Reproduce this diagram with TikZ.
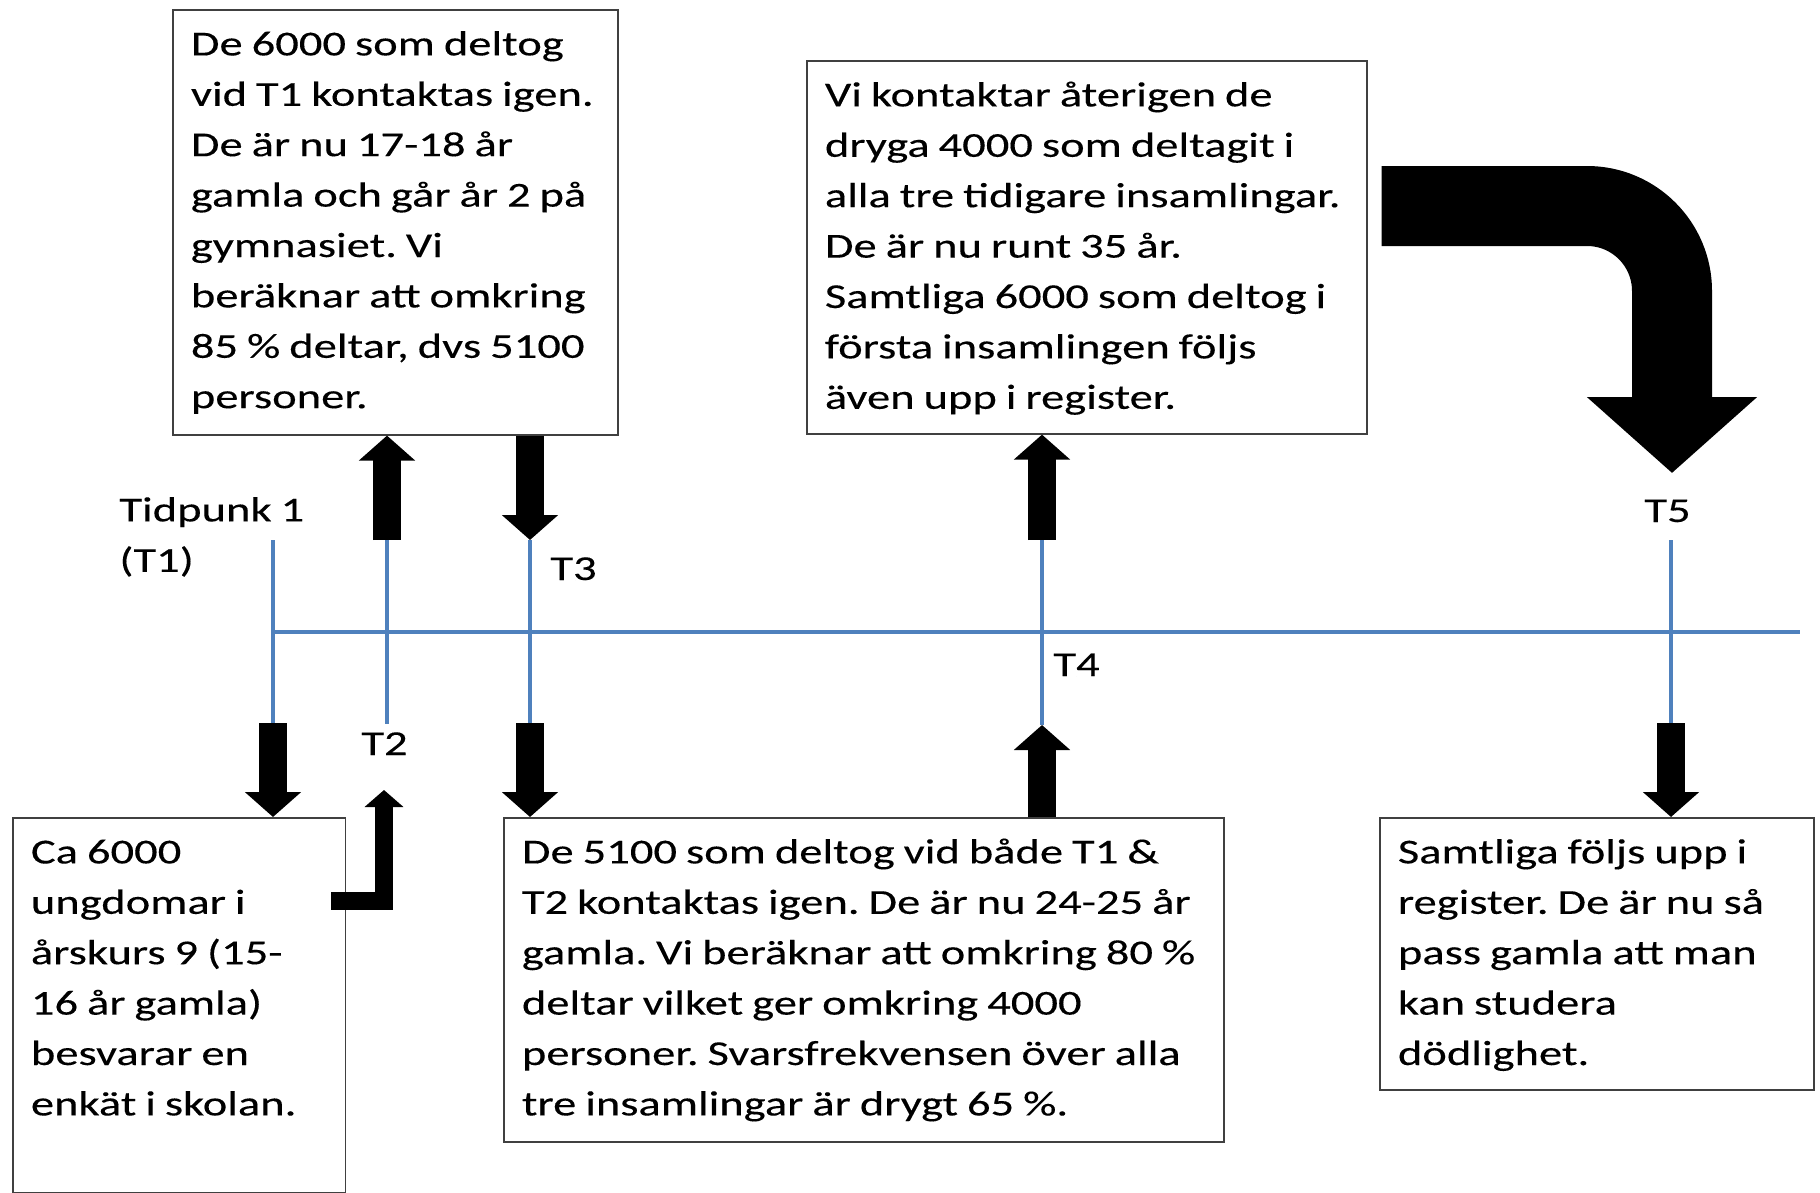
\documentclass[tikz,border=0pt]{standalone}
\usepackage{fontspec}
\setmainfont{Carlito}[FakeStretch=1.33, WordSpace=0.85, FakeBold=0.25]
\usepackage{tikz}
\usetikzlibrary{arrows.meta, positioning}
\definecolor{axisblue}{HTML}{4F81BD}
\newcommand{\boxfont}{\fontsize{17.5pt}{25.2pt}\selectfont}
\newcommand{\topstrut}{\rule{0pt}{14pt}}
\frenchspacing

\begin{document}
\begin{tikzpicture}[x=0.5pt, y=-0.5pt,
        infobox/.style={draw=black!75, line width=0.8pt, inner sep=0pt, anchor=north west},
        infotext/.style={font=\boxfont, align=left, inner sep=0pt, anchor=north west},
        tlabel/.style={font=\boxfont, inner sep=0pt, anchor=base west},
        timeline/.style={draw=axisblue, line width=2pt},
        blockarrow/.style={line width=14pt, -{Triangle[width=27.5pt, length=12.5pt]}},
        elbowarrow/.style={line width=9pt, line join=miter, -{Triangle[width=19pt, length=8.5pt]}},
        bigarrow/.style={line width=40pt, rounded corners=42.5pt, -{Triangle[width=83pt, length=38pt]}}
    ]
    \useasboundingbox (0,0) rectangle (1820,1193);

    % tidslinje
    \coordinate (axisL) at (273,632);
    \coordinate (axisR) at (1800,632);
    \coordinate (t1top) at (273,540);
    \coordinate (t1bot) at (273,723);
    \coordinate (t2top) at (387,540);
    \coordinate (t2bot) at (387,724);
    \coordinate (t3top) at (530,540);
    \coordinate (t3bot) at (530,723);
    \coordinate (t4top) at (1042,540);
    \coordinate (t4bot) at (1042,725);
    \coordinate (t5top) at (1671,540);
    \coordinate (t5bot) at (1671,723);
    \draw[timeline] (axisL) -- (axisR);
    \draw[timeline] (t1top) -- (t1bot);
    \draw[timeline] (t2top) -- (t2bot);
    \draw[timeline] (t3top) -- (t3bot);
    \draw[timeline] (t4top) -- (t4bot);
    \draw[timeline] (t5top) -- (t5bot);

    % etiketter
    \node[infotext] (tid1) at (119,493) {\topstrut Tidpunk 1\\(T1)};
    \node[tlabel] (lab2) at (361,755) {T2};
    \node[tlabel] (lab3) at (550,580) {T3};
    \node[tlabel] (lab4) at (1053,676) {T4};
    \node[tlabel] (lab5) at (1644,522) {T5};

    % rutor
    \node[infobox, minimum width=222.5pt, minimum height=212.5pt] (boxA) at (172,9) {};
    \node[infobox, minimum width=280pt, minimum height=186.5pt] (boxB) at (806,60) {};
    \node[infobox, minimum width=166.4pt, minimum height=187.5pt] (boxC) at (12,817) {};
    \node[infobox, minimum width=360.2pt, minimum height=162pt] (boxD) at (503,817) {};
    \node[infobox, minimum width=217pt, minimum height=136pt] (boxE) at (1379,817) {};

    \node[infotext] (txtA) at ([xshift=9.25pt, yshift=-9pt]boxA.north west)
        {\topstrut De 6000 som deltog\\vid T1 kontaktas igen.\\De är nu 17-18 år\\gamla och går år 2 på\\gymnasiet. Vi\\beräknar att omkring\\85 \% deltar, dvs 5100\\personer.};
    \node[infotext] (txtB) at ([xshift=9.25pt, yshift=-9pt]boxB.north west)
        {\topstrut Vi kontaktar återigen de\\dryga 4000 som deltagit i\\alla tre tidigare insamlingar.\\De är nu runt 35 år.\\Samtliga 6000 som deltog i\\första insamlingen följs\\även upp i register.};
    \node[infotext] (txtC) at ([xshift=9.25pt, yshift=-9pt]boxC.north west)
        {\topstrut Ca 6000\\ungdomar i\\årskurs 9 (15-\\16 år gamla)\\besvarar en\\enkät i skolan.};
    \node[infotext] (txtD) at ([xshift=9.25pt, yshift=-9pt]boxD.north west)
        {\topstrut De 5100 som deltog vid både T1 \&\\T2 kontaktas igen. De är nu 24-25 år\\gamla. Vi beräknar att omkring 80 \%\\deltar vilket ger omkring 4000\\personer. Svarsfrekvensen över alla\\tre insamlingar är drygt 65 \%.};
    \node[infotext] (txtE) at ([xshift=9.25pt, yshift=-9pt]boxE.north west)
        {\topstrut Samtliga följs upp i\\register. De är nu så\\pass gamla att man\\kan studera\\dödlighet.};

    % pilar
    \draw[blockarrow] (t1bot) -- (t1bot |- boxC.north);
    \draw[blockarrow] (t2top) -- (t2top |- boxA.south);
    \draw[blockarrow] (t3top |- boxA.south) -- (t3top);
    \draw[blockarrow] (t3bot) -- (t3bot |- boxD.north);
    \draw[blockarrow] (t4top) -- (t4top |- boxB.south);
    \draw[blockarrow] (t4bot |- boxD.north) -- (t4bot);
    \draw[blockarrow] (t5bot) -- (t5bot |- boxE.north);

    \coordinate (t2elbow) at (384,901);
    \coordinate (t2tip) at (384,790);
    \draw[elbowarrow] ([xshift=-7.6pt]boxC.east |- t2elbow) -- (t2elbow) -- (t2tip);

    \coordinate (t5bend) at (1672,206);
    \coordinate (t5tip) at (1672,473);
    \draw[bigarrow] ([xshift=7pt]boxB.east |- t5bend) -- (t5bend) -- (t5tip);

\end{tikzpicture}
\end{document}
